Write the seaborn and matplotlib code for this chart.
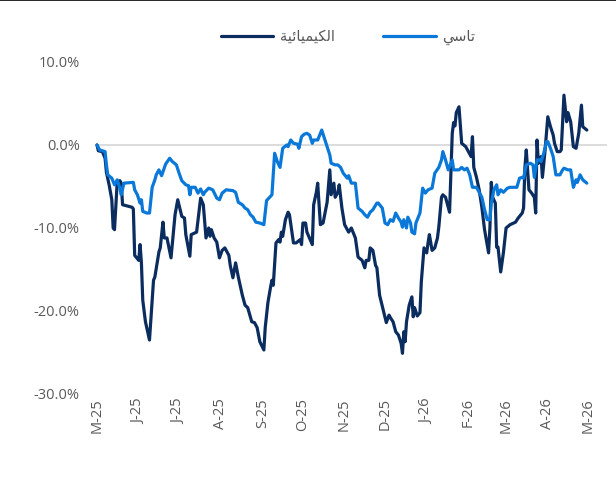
import pandas as pd
import seaborn as sns
import matplotlib.pyplot as plt
from matplotlib.lines import Line2D
from matplotlib.ticker import FuncFormatter

# ---------------- data (cumulative return, %) ----------------
START = pd.Timestamp("2025-05-01")

# sector index ("الكيميائية")
chem_day = [0, 1, 4, 6, 7, 9, 11, 12, 13, 15, 17, 18, 19, 26, 27, 28, 31, 32, 33, 34,
            36, 39, 41, 42, 43, 46, 47, 49, 50, 52, 55, 58, 60, 63, 65, 66, 69, 70, 74, 77,
            79, 81, 83, 84, 85, 87, 89, 91, 93, 95, 98, 99, 101, 103, 105, 108, 110, 112, 115, 117,
            119, 121, 124, 125, 127, 129, 130, 131, 133, 135, 136, 137, 138, 140, 142, 143, 146, 148, 151, 152,
            153, 155, 156, 160, 161, 163, 164, 166, 168, 171, 173, 174, 176, 177, 179, 180, 182, 184, 187, 189,
            192, 194, 197, 199, 200, 202, 203, 205, 207, 208, 210, 213, 215, 217, 218, 220, 222, 224, 226, 227,
            228, 229, 230, 232, 234, 235, 236, 238, 240, 241, 243, 245, 246, 247, 249, 251, 253, 254, 256, 257,
            259, 262, 264, 265, 266, 267, 269, 271, 274, 276, 278, 279, 280, 282, 284, 286, 288, 291, 292, 293,
            294, 296, 297, 298, 300, 302, 304, 307, 311, 313, 316, 317, 318, 319, 321, 323, 325, 326, 327, 328,
            330, 331, 333, 335, 337, 339, 340, 342, 344, 345, 347, 349, 350, 352, 354, 356, 358, 360, 361, 364]
chem_ret = [0.0, -0.7, -0.8, -1.6, -3.3, -4.8, -6.6, -10.0, -10.2, -4.5, -4.3, -4.6, -7.2, -7.5, -7.7, -13.3, -13.9, -12.0, -14.2, -18.7,
            -21.3, -23.5, -18.7, -16.3, -15.9, -12.9, -12.4, -9.3, -11.2, -11.2, -13.6, -8.4, -6.6, -8.6, -8.8, -10.8, -13.4, -10.8, -10.5, -6.4,
            -7.2, -11.2, -10.0, -11.0, -10.2, -11.2, -11.7, -13.6, -12.7, -12.4, -13.3, -14.5, -16.0, -14.2, -15.9, -18.1, -19.3, -19.6, -21.3, -21.4,
            -22.0, -23.7, -24.7, -22.0, -19.0, -17.1, -16.3, -16.9, -11.8, -11.4, -11.7, -10.5, -11.0, -9.0, -8.1, -8.4, -11.8, -11.8, -11.4, -12.0,
            -9.4, -9.4, -10.5, -12.0, -7.2, -5.7, -4.6, -9.6, -9.4, -6.9, -3.0, -6.0, -4.6, -6.3, -5.7, -4.8, -7.6, -9.6, -10.5, -10.0,
            -11.2, -13.5, -13.9, -14.8, -13.9, -13.9, -12.4, -12.7, -14.5, -14.8, -18.1, -20.1, -21.4, -20.5, -20.8, -21.3, -22.5, -22.9, -23.9, -25.1,
            -22.5, -23.7, -21.3, -19.3, -18.3, -20.7, -19.6, -20.6, -20.2, -16.5, -12.4, -13.0, -11.8, -10.8, -12.7, -12.4, -11.2, -9.9, -6.3, -6.0,
            -6.3, -8.1, 1.4, 2.7, 2.3, 3.9, 4.6, 0.2, -0.2, -0.8, -1.4, 1.0, -2.7, -3.9, -5.4, -7.5, -10.2, -13.0, -9.9, -4.5,
            -6.3, -7.0, -12.3, -12.3, -15.3, -13.0, -10.0, -9.6, -9.3, -8.8, -8.2, -7.6, -2.7, -0.6, -5.4, -5.8, -6.3, -8.2, 0.6, -2.2,
            -1.4, -3.9, -0.6, 3.4, 2.2, 1.2, 0.2, -0.8, -0.8, -0.6, 6.0, 2.8, 3.9, 2.8, -0.2, -0.4, 1.4, 4.8, 2.2, 1.8]

# market index ("تاسي")
tasi_day = [0, 2, 6, 7, 8, 11, 13, 15, 17, 18, 20, 27, 28, 30, 32, 33, 34, 37, 39, 41,
            43, 44, 46, 48, 51, 54, 56, 59, 61, 63, 66, 68, 69, 70, 73, 75, 77, 79, 80, 83,
            86, 89, 91, 93, 96, 101, 103, 105, 108, 110, 112, 114, 116, 118, 121, 124, 126, 130, 132, 134,
            136, 138, 141, 142, 144, 146, 149, 150, 152, 154, 156, 158, 160, 161, 164, 167, 169, 171, 173, 174,
            177, 179, 181, 183, 186, 187, 189, 192, 194, 197, 199, 201, 203, 205, 208, 209, 212, 214, 216, 218,
            220, 222, 224, 226, 227, 228, 230, 231, 233, 234, 236, 237, 240, 242, 244, 246, 249, 251, 254, 256,
            257, 259, 261, 264, 265, 269, 271, 273, 275, 277, 279, 282, 283, 286, 288, 290, 292, 293, 295, 297,
            298, 300, 302, 305, 307, 312, 314, 316, 317, 319, 322, 324, 325, 327, 329, 330, 332, 334, 335, 337,
            339, 341, 344, 346, 347, 350, 352, 354, 356, 357, 359, 361, 364]
tasi_ret = [0.0, -0.6, -0.8, -2.4, -3.6, -4.0, -4.8, -4.2, -5.2, -6.0, -4.6, -4.5, -5.4, -6.0, -7.0, -6.6, -8.0, -8.2, -8.2, -5.1,
            -4.2, -3.6, -3.0, -3.7, -2.3, -1.6, -2.0, -2.4, -3.4, -4.3, -4.8, -4.9, -6.0, -5.1, -5.1, -5.8, -5.3, -6.0, -5.7, -5.2,
            -5.4, -6.4, -6.6, -5.8, -5.4, -5.5, -5.7, -6.9, -7.2, -7.6, -7.8, -8.4, -8.7, -9.3, -9.4, -9.6, -6.7, -6.0, -1.0, -2.0,
            -2.7, -0.4, 0.0, -0.2, 0.6, 0.2, 0.1, -0.4, 1.0, 1.3, 1.4, 1.2, 0.2, 0.6, 0.6, 1.8, 0.8, -0.2, -1.2, -2.2,
            -2.4, -2.4, -2.7, -3.4, -4.0, -3.7, -4.6, -4.6, -7.6, -8.0, -8.4, -8.7, -8.1, -7.8, -7.0, -7.0, -7.6, -9.4, -9.6, -9.0,
            -9.2, -8.2, -8.8, -9.3, -9.9, -9.0, -10.0, -8.7, -9.4, -10.5, -10.7, -9.4, -8.2, -5.2, -5.8, -5.4, -5.2, -3.4, -2.7, -1.8,
            -0.8, -1.8, -3.0, -1.8, -3.0, -3.0, -2.7, -3.0, -2.8, -3.6, -5.1, -5.1, -5.4, -6.3, -7.8, -9.0, -9.0, -7.0, -5.4, -4.8,
            -6.0, -5.4, -5.7, -5.2, -5.1, -5.1, -4.0, -3.9, -4.0, -2.4, -2.2, -2.4, -3.9, -1.8, -1.8, -2.0, -1.0, 0.4, 0.4, -0.4,
            -1.4, -3.6, -3.6, -3.0, -2.8, -3.0, -3.0, -5.1, -4.2, -4.5, -3.6, -4.2, -4.6]

# Arabic labels in visual (shaped, right-to-left) order for matplotlib
chem_label = "\uFE94\uFEF4\uFE8B\uFE8E\uFEF4\uFEE4\uFEF4\uFEDC\uFEDF\uFE8D"  # الكيميائية
tasi_label = "\uFEF2\uFEB3\uFE8E\uFE97"  # تاسي

month_labels = ["M-25", "J-25", "J-25", "A-25", "S-25", "O-25", "N-25",
                "D-25", "J-26", "F-26", "M-26", "A-26", "M-26"]

# ---------------- style ----------------
NAVY = "#0B2C5F"
BLUE = "#0A78D8"
GREY = "#595959"

sns.set_theme(style="white")
plt.rcParams["font.family"] = ["Open Sans", "DejaVu Sans"]

chem = pd.DataFrame({"date": START + pd.to_timedelta(chem_day, unit="D"), "ret": chem_ret})
tasi = pd.DataFrame({"date": START + pd.to_timedelta(tasi_day, unit="D"), "ret": tasi_ret})

fig = plt.figure(figsize=(6.16, 4.79), dpi=100)
ax = fig.add_axes([0.1542, 0.1775, 0.8312, 0.6931])

ax.axhline(0, color="#D9D9D9", lw=1.3, zorder=1)
sns.lineplot(data=chem, x="date", y="ret", ax=ax, color=NAVY, lw=2.3,
             estimator=None, label=chem_label, zorder=3)
sns.lineplot(data=tasi, x="date", y="ret", ax=ax, color=BLUE, lw=2.3,
             estimator=None, label=tasi_label, zorder=4)

ax.set_ylim(-30, 10)
ax.set_yticks([10, 0, -10, -20, -30])
ax.yaxis.set_major_formatter(FuncFormatter(lambda v, p: f"{v:.1f}%"))
ax.set_xlim(START - pd.Timedelta(days=1.5), START + pd.Timedelta(days=379))
ax.set_xticks(pd.date_range(START, periods=13, freq="MS"))
ax.set_xticklabels(month_labels, rotation=90)
ax.tick_params(axis="y", length=0, pad=11, labelsize=10.5, labelcolor=GREY)
ax.tick_params(axis="x", length=0, pad=3, labelsize=10.5, labelcolor=GREY)
ax.set_xlabel("")
ax.set_ylabel("")
ax.grid(False)
for s in ax.spines.values():
    s.set_visible(False)

ax.get_legend().remove()
leg = fig.legend(handles=ax.lines[1:3], labels=[chem_label, tasi_label],
                 loc="center", bbox_to_anchor=(0.565, 0.923), ncol=2, frameon=False,
                 handlelength=3.6, handletextpad=0.45, columnspacing=3.3,
                 prop={"family": ["DejaVu Sans"], "size": 10.5})
for t in leg.get_texts():
    t.set_color(GREY)

# thin border line at the very top of the image
fig.add_artist(Line2D([0, 1], [0.999, 0.999], color="black", lw=1.2, transform=fig.transFigure))

fig.savefig("out.png", dpi=100)
